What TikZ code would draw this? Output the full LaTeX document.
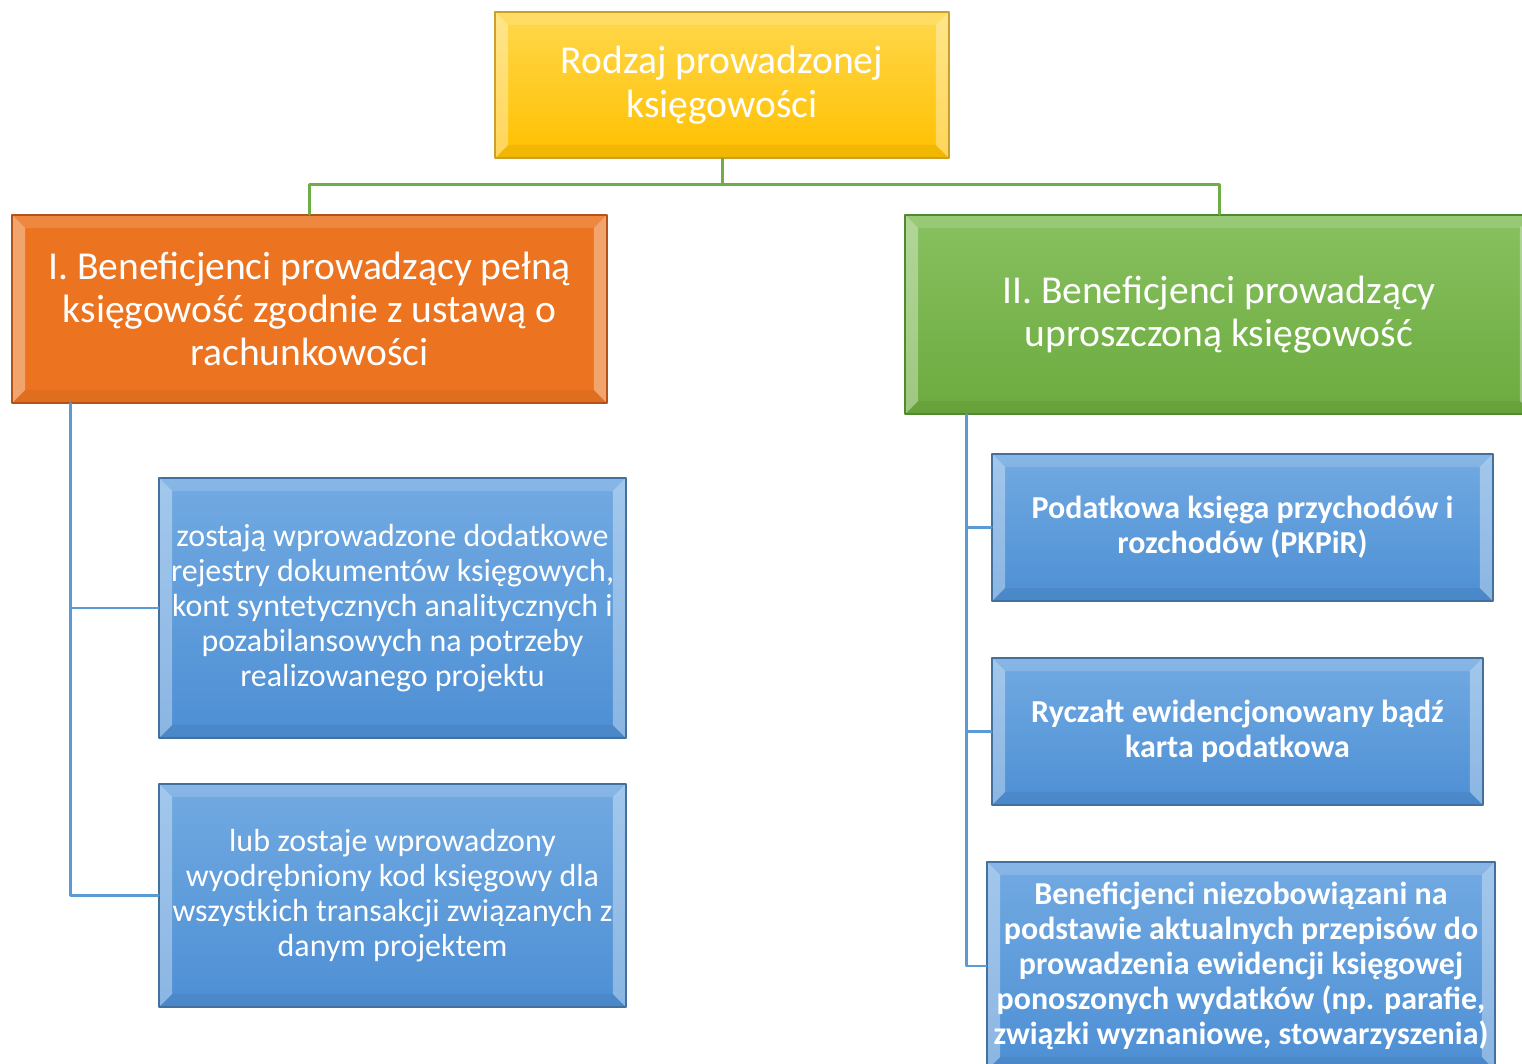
\documentclass[tikz,border=0pt]{standalone}
\usepackage{fontspec}
\setmainfont{Carlito}
\usetikzlibrary{positioning}
\definecolor{ylwtop}{HTML}{FFD84C}
\definecolor{ylwbot}{HTML}{FFC000}
\definecolor{ylwedge}{HTML}{C9A02A}
\definecolor{orgmid}{HTML}{FA8622}
\definecolor{orgside}{HTML}{EC7420}
\definecolor{orgedge}{HTML}{B4521C}
\definecolor{grntop}{HTML}{88C160}
\definecolor{grnbot}{HTML}{6CAA3E}
\definecolor{grnedge}{HTML}{4F8A2E}
\definecolor{blutop}{HTML}{72AAE2}
\definecolor{blubot}{HTML}{4D8FD4}
\definecolor{bluedge}{HTML}{41719C}
\definecolor{grnwire}{HTML}{70AD47}
\definecolor{bluwire}{HTML}{5B9BD5}
\tikzset{
  every picture/.style={line join=round, line cap=round},
  bevel/.style={path picture={
    \fill[white,opacity=.35] (path picture bounding box.north west) -- ([shift={(.26cm,-.26cm)}]path picture bounding box.north west)
      -- ([shift={(.26cm,.26cm)}]path picture bounding box.south west) -- (path picture bounding box.south west) -- cycle;
    \fill[white,opacity=.35] (path picture bounding box.north east) -- ([shift={(-.26cm,-.26cm)}]path picture bounding box.north east)
      -- ([shift={(-.26cm,.26cm)}]path picture bounding box.south east) -- (path picture bounding box.south east) -- cycle;
    \fill[white,opacity=.15] (path picture bounding box.north west) -- ([shift={(.26cm,-.26cm)}]path picture bounding box.north west)
      -- ([shift={(-.26cm,-.26cm)}]path picture bounding box.north east) -- (path picture bounding box.north east) -- cycle;
    \fill[black,opacity=.05] (path picture bounding box.south west) -- ([shift={(.26cm,.26cm)}]path picture bounding box.south west)
      -- ([shift={(-.26cm,.26cm)}]path picture bounding box.south east) -- (path picture bounding box.south east) -- cycle;
  }},
  box/.style={draw, line width=1pt, inner sep=0pt, align=center, text=white, bevel},
  bigtext/.style={font={\fontsize{22.5pt}{24.7pt}\selectfont}},
  smalltext/.style={font={\fontsize{18.2pt}{20pt}\selectfont}},
  boldtext/.style={font={\fontsize{18.2pt}{20pt}\selectfont\bfseries}},
  yellowbox/.style={box, bigtext, draw=ylwedge, top color=ylwtop, bottom color=ylwbot},
  orangebox/.style={box, bigtext, draw=orgedge, left color=orgside, middle color=orgmid, right color=orgside},
  greenbox/.style={box, bigtext, draw=grnedge, top color=grntop, bottom color=grnbot},
  bluebox/.style={box, draw=bluedge, top color=blutop, bottom color=blubot},
  greenwire/.style={draw=grnwire, line width=1.7pt},
  bluewire/.style={draw=bluwire, line width=1.7pt},
}

\begin{document}
\begin{tikzpicture}[x=0.02cm,y=-0.02cm]
\useasboundingbox (0,0) rectangle (1522,1064);
\clip (0,0) rectangle (1522,1064);

% top level
\node[yellowbox, minimum width=9.08cm, minimum height=2.92cm] (kind) at (722,85)
  {Rodzaj prowadzonej\\księgowości};

% two kinds of bookkeeping
\node[orangebox, minimum width=11.9cm, minimum height=3.76cm] (full) at (309.5,309)
  {I. Beneficjenci prowadzący pełną\\księgowość zgodnie z ustawą o\\rachunkowości};
\node[greenbox, minimum width=12.56cm, minimum height=3.98cm] (simple) at (1219,314.5)
  {II. Beneficjenci prowadzący\\uproszczoną księgowość};

% full bookkeeping
\node[bluebox, smalltext, minimum width=9.34cm, minimum height=5.2cm] (fullA) at (392.5,608)
  {zostają wprowadzone dodatkowe\\rejestry dokumentów księgowych,\\kont syntetycznych analitycznych i\\pozabilansowych na potrzeby\\realizowanego projektu};
\node[bluebox, smalltext, minimum width=9.34cm, minimum height=4.46cm] (fullB) at (392.5,895.5)
  {lub zostaje wprowadzony\\wyodrębniony kod księgowy dla\\wszystkich transakcji związanych z\\danym projektem};

% simplified bookkeeping
\node[bluebox, boldtext, minimum width=10.02cm, minimum height=2.94cm] (simpA) at (1242.5,527.5)
  {Podatkowa księga przychodów i\\rozchodów (PKPiR)};
\node[bluebox, boldtext, minimum width=9.82cm, minimum height=2.94cm] (simpB) at (1237.5,731.5)
  {Ryczałt ewidencjonowany bądź\\karta podatkowa};
\node[bluebox, boldtext, minimum width=10.16cm, minimum height=4.16cm] (simpC) at (1241,966)
  {Beneficjenci niezobowiązani na\\podstawie aktualnych przepisów do\\prowadzenia ewidencji księgowej\\ponoszonych wydatków (np. parafie,\\związki wyznaniowe, stowarzyszenia)};

% connectors
\draw[greenwire] (kind.south) -- ++(0,26) -| (full.north);
\draw[greenwire] (kind.south) -- ++(0,26) -| (simple.north);
\coordinate (trunkL) at ([xshift=1.18cm]full.south west);
\coordinate (trunkR) at ([xshift=1.24cm]simple.south west);
\draw[bluewire] (trunkL) |- (fullA.west);
\draw[bluewire] (trunkL) |- (fullB.west);
\draw[bluewire] (trunkR) |- (simpA.west);
\draw[bluewire] (trunkR) |- (simpB.west);
\draw[bluewire] (trunkR) |- (simpC.west);
\end{tikzpicture}
\end{document}
